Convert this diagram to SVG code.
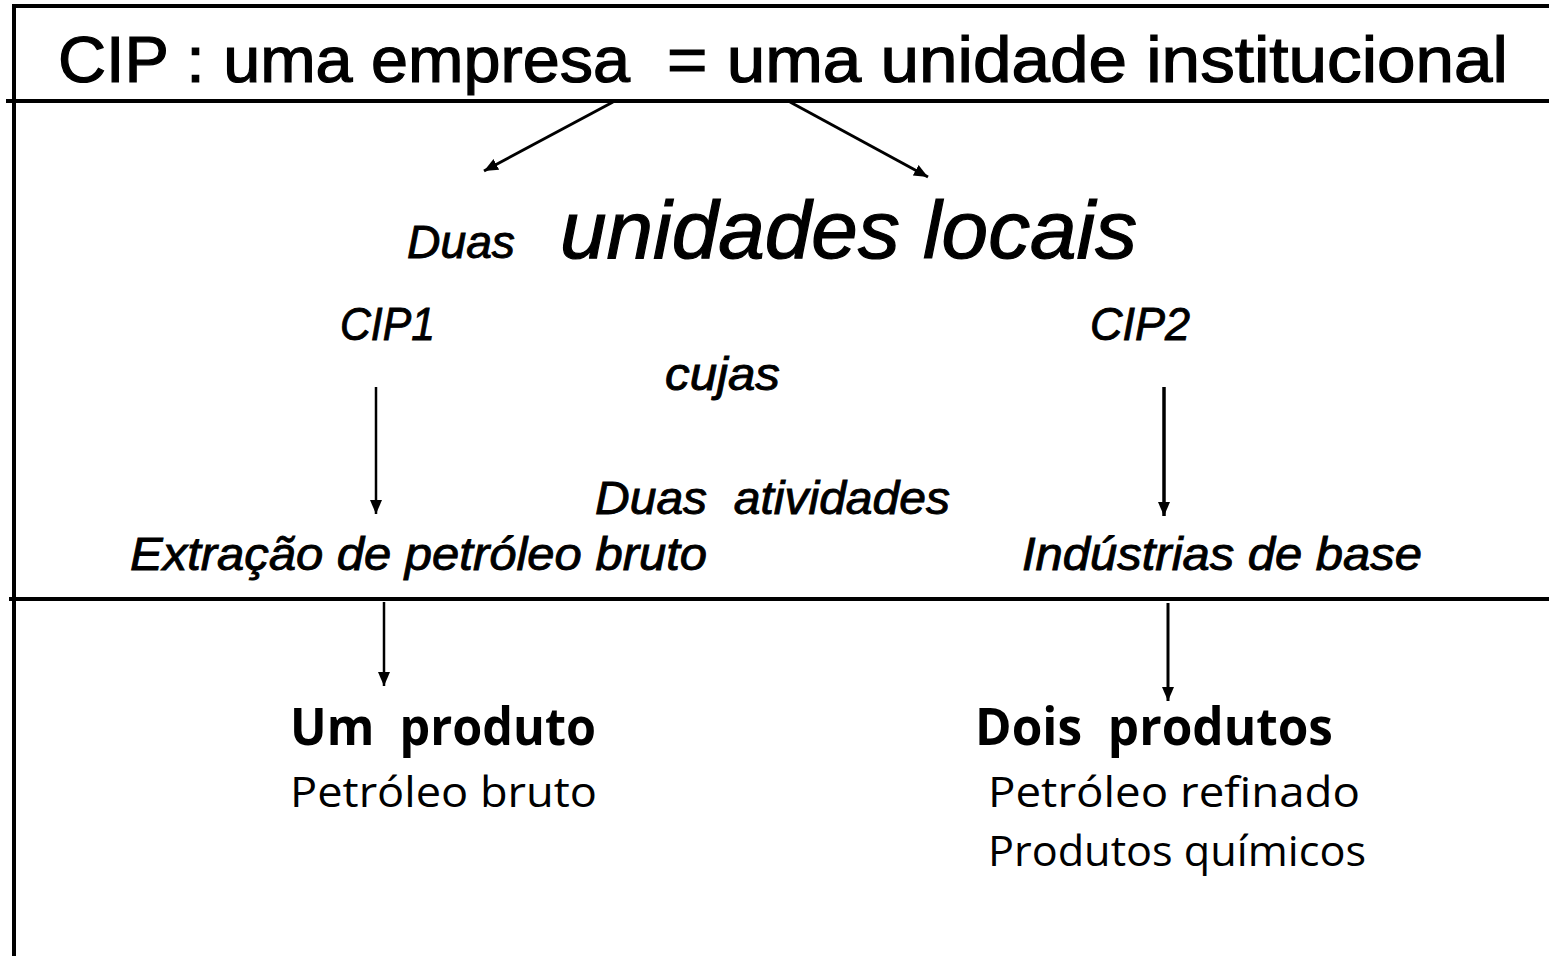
<svg xmlns="http://www.w3.org/2000/svg" width="1549" height="956" viewBox="0 0 1549 956">
<style>
.frame{stroke:#000;stroke-width:4;fill:none}
.arr{stroke:#000;fill:none;marker-end:url(#ah)}
text{white-space:pre}
.title{font-family:"Liberation Sans",Arial,sans-serif;font-size:64px;fill:#000;stroke:#000;stroke-width:1.2}
.lbl{font-family:"Liberation Sans",Arial,sans-serif;font-style:italic;font-size:46px;fill:#000;stroke:#000;stroke-width:0.9}
.big{font-family:"Liberation Sans",Arial,sans-serif;font-style:italic;font-size:82px;fill:#000;stroke:#000;stroke-width:1.2}
.prod{font-family:"Open Sans","DejaVu Sans",sans-serif;font-weight:bold;font-size:52px;fill:#000}
.item{font-family:"Open Sans","DejaVu Sans",sans-serif;font-size:42px;fill:#000}
</style>
<defs>
<marker id="ah" markerUnits="userSpaceOnUse" markerWidth="16" markerHeight="14" refX="14" refY="7" orient="auto">
<path d="M0,1 L14,7 L0,13 Z" fill="#000"/>
</marker>
</defs>
<rect width="1549" height="956" fill="#fff"/>
<g id="frame">
<line class="frame" x1="12" y1="6" x2="1549" y2="6"/>
<line class="frame" x1="14" y1="4" x2="14" y2="956"/>
<line class="frame" x1="6" y1="101" x2="1549" y2="101"/>
<line class="frame" x1="9" y1="599" x2="1549" y2="599"/>
</g>
<g id="title">
<text class="title" x="58" y="82" textLength="572" lengthAdjust="spacingAndGlyphs">CIP : uma empresa</text>
<text class="title" x="667" y="82" textLength="841" lengthAdjust="spacingAndGlyphs">= uma unidade institucional</text>
</g>
<g id="connectors">
<line class="arr" x1="613" y1="102" x2="484" y2="171" stroke-width="3"/>
<line class="arr" x1="790" y1="102" x2="928" y2="177" stroke-width="3"/>
<line class="arr" x1="376" y1="387" x2="376" y2="514" stroke-width="2.5"/>
<line class="arr" x1="1164" y1="387" x2="1164" y2="516" stroke-width="3.5"/>
<line class="arr" x1="384" y1="602" x2="384" y2="686" stroke-width="2.5"/>
<line class="arr" x1="1168" y1="603" x2="1168" y2="701" stroke-width="3"/>
</g>
<g id="unidades">
<text class="lbl" x="407" y="258" textLength="108" lengthAdjust="spacingAndGlyphs">Duas</text>
<text class="big" x="560" y="258" textLength="577" lengthAdjust="spacingAndGlyphs">unidades locais</text>
</g>
<g id="cip1"><text class="lbl" x="340" y="340" textLength="95" lengthAdjust="spacingAndGlyphs">CIP1</text></g>
<g id="cip2"><text class="lbl" x="1090" y="340" textLength="100" lengthAdjust="spacingAndGlyphs">CIP2</text></g>
<g id="cujas"><text class="lbl" x="665" y="390" textLength="115" lengthAdjust="spacingAndGlyphs">cujas</text></g>
<g id="atividades"><text class="lbl" x="595" y="514" textLength="355" lengthAdjust="spacingAndGlyphs">Duas  atividades</text></g>
<g id="extracao"><text class="lbl" x="130" y="570" textLength="577" lengthAdjust="spacingAndGlyphs">Extração de petróleo bruto</text></g>
<g id="industrias"><text class="lbl" x="1022" y="570" textLength="400" lengthAdjust="spacingAndGlyphs">Indústrias de base</text></g>
<g id="umproduto">
<text class="prod" x="290" y="745" textLength="306" lengthAdjust="spacingAndGlyphs">Um  produto</text>
<text class="item" x="290" y="807" textLength="307" lengthAdjust="spacingAndGlyphs">Petróleo bruto</text>
</g>
<g id="doisprodutos">
<text class="prod" x="975" y="745" textLength="358" lengthAdjust="spacingAndGlyphs">Dois  produtos</text>
<text class="item" x="988" y="807" textLength="372" lengthAdjust="spacingAndGlyphs">Petróleo refinado</text>
<text class="item" x="988" y="866" textLength="378" lengthAdjust="spacingAndGlyphs">Produtos químicos</text>
</g>
</svg>
